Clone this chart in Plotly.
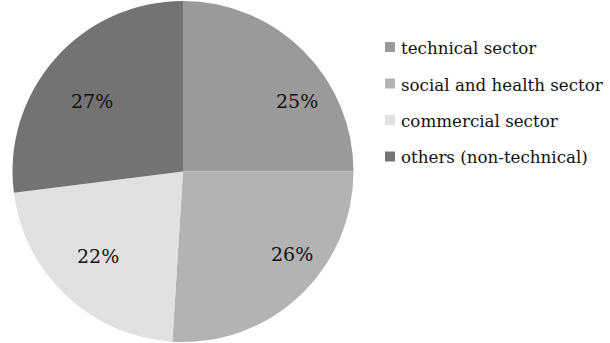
import math
import plotly.graph_objects as go

# Share of respondents by sector
sectors = ["technical sector", "social and health sector", "commercial sector", "others (non-technical)"]
shares = [25, 26, 22, 27]
slice_colors = ["#9a9a9a", "#b3b3b3", "#e1e1e1", "#737373"]

W, H = 610, 343
cx, cy, r = 183, 171.5, 170.5      # pie centre and radius, px from top-left

# Placement of the percentage labels: (angle clockwise from 12 o'clock, distance as fraction of r)
label_polar = [(58.2, 0.786), (127.1, 0.804), (225.2, 0.70), (307.7, 0.673)]

# Legend placement (px)
leg_box_x, leg_box_size = 385, 10
leg_text_x = 399
leg_y0, leg_dy = 47, 36.5

fig = go.Figure(
    go.Pie(
        labels=sectors,
        values=shares,
        sort=False,
        direction="clockwise",
        rotation=0,
        marker=dict(colors=slice_colors, line=dict(width=0)),
        textinfo="none",
        hoverinfo="label+percent",
        showlegend=False,
        domain=dict(x=[(cx - r) / W, (cx + r) / W], y=[(H - cy - r) / H, (H - cy + r) / H]),
    )
)

total = sum(shares)
annotations = []
shapes = []
for i, (name, v, col) in enumerate(zip(sectors, shares, slice_colors)):
    ang, frac = label_polar[i]
    a = math.radians(ang)
    px = cx + frac * r * math.sin(a)
    py = cy - frac * r * math.cos(a)
    annotations.append(dict(
        x=px / W, y=1 - py / H, xref="paper", yref="paper",
        text=f"{round(100 * v / total)}%", showarrow=False,
        xanchor="center", yanchor="middle",
        font=dict(family="DejaVu Serif", size=19, color="#111111"),
    ))
    # legend entry
    ly = leg_y0 + i * leg_dy
    shapes.append(dict(
        type="rect", xref="paper", yref="paper",
        x0=leg_box_x / W, x1=(leg_box_x + leg_box_size) / W,
        y0=1 - (ly + leg_box_size / 2) / H, y1=1 - (ly - leg_box_size / 2) / H,
        fillcolor=col, line=dict(width=0),
    ))
    annotations.append(dict(
        x=leg_text_x / W, y=1 - (ly + 1) / H, xref="paper", yref="paper",
        text=name, showarrow=False, xanchor="left", yanchor="middle",
        font=dict(family="DejaVu Serif", size=16.7, color="#111111"),
    ))

fig.update_layout(
    width=W,
    height=H,
    margin=dict(l=0, r=0, t=0, b=0, autoexpand=False),
    paper_bgcolor="white",
    plot_bgcolor="white",
    font=dict(family="DejaVu Serif", color="#111111"),
    annotations=annotations,
    shapes=shapes,
)

fig.write_html("out.html")
